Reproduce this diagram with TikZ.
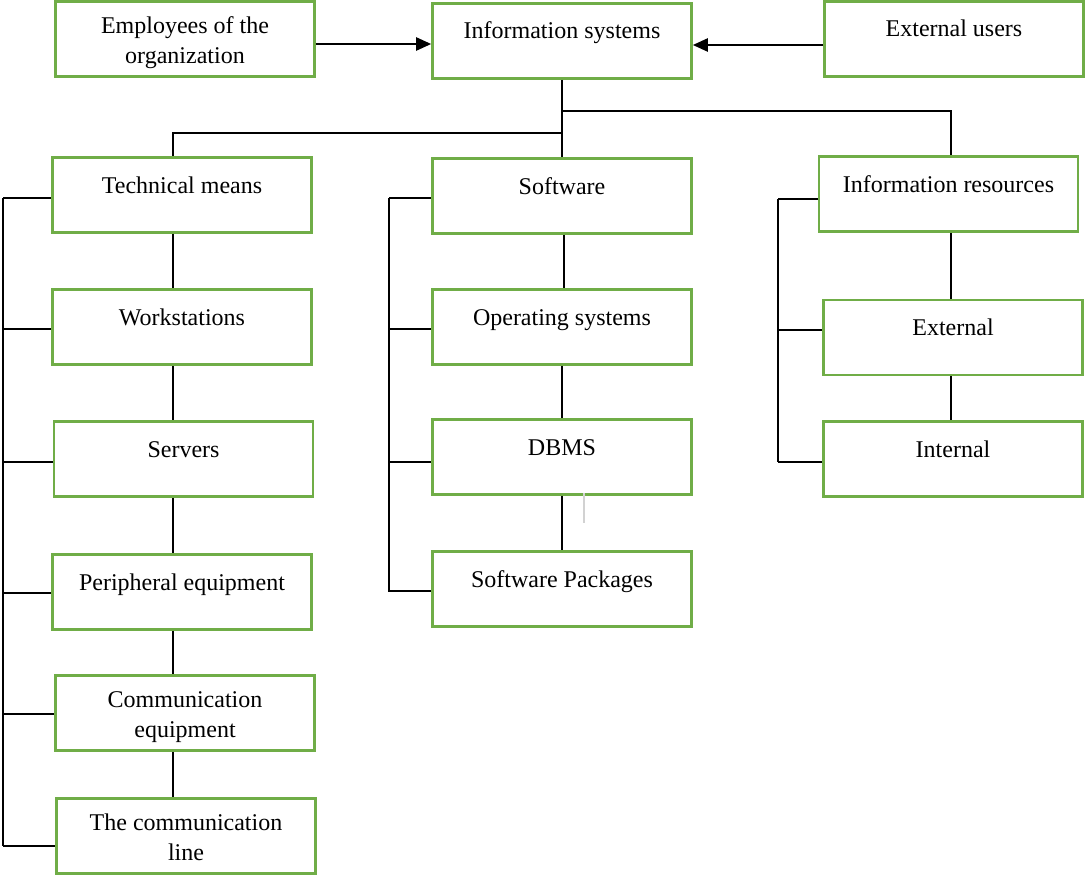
\documentclass[tikz,border=0pt]{standalone}
\usepackage{fontspec}
\setmainfont{Liberation Serif}
\usetikzlibrary{arrows.meta}
\newcommand\bt[1]{\parbox[t]{250pt}{\centering #1}}
\begin{document}
\begin{tikzpicture}[x=1pt,y=-1pt,
  box/.style={draw=boxgreen, line width=2.6pt, minimum width=259pt, minimum height=75pt,
    inner sep=0pt, font=\fontsize{24}{30}\selectfont},
  one/.style={box, text height=35.5pt, text depth=39.5pt},
  two/.style={box, text height=32pt, text depth=43pt},
  conn/.style={line width=2.3pt, black},
  arr/.style={conn, -{Triangle[length=15pt,width=13pt]}}]
\definecolor{boxgreen}{RGB}{112,173,71}
\useasboundingbox (0,0) rectangle (1085,875);
% top row
\node[two] (emp) at (185,39) {\bt{Employees of the\\organization}};
\node[one] (is) at (562,41) {\bt{Information systems}};
\node[one] (eu) at (954,39) {\bt{External users}};
% second row
\node[one] (tm) at (182,195) {\bt{Technical means}};
\node[one] (sw) at (562,196) {\bt{Software}};
\node[one] (ir) at (948.5,194) {\bt{Information resources}};
% technical means column
\node[one] (ws) at (182,327) {\bt{Workstations}};
\node[one] (srv) at (183.5,459) {\bt{Servers}};
\node[one] (per) at (182,592) {\bt{Peripheral equipment}};
\node[two] (ceq) at (185,713) {\bt{Communication\\equipment}};
\node[two] (cl) at (186,836) {\bt{The communication\\line}};
% software column
\node[one] (os) at (562,327) {\bt{Operating systems}};
\node[one] (db) at (562,457) {\bt{DBMS}};
\node[one] (sp) at (562,589) {\bt{Software Packages}};
% information resources column
\node[one] (ext) at (953,337.5) {\bt{External}};
\node[one] (int) at (953,459) {\bt{Internal}};
% coordinates
\coordinate (tmx) at (173,0);
\coordinate (swx) at (564,0);
\coordinate (irx) at (951,0);
\coordinate (lb) at (3,0);
\coordinate (mb) at (389,0);
\coordinate (rb) at (778,0);
% arrows into information systems
\draw[arr] (emp.east |- 0,44) -- (is.west |- 0,44);
\draw[arr] (eu.west |- 0,45) -- (is.east |- 0,45);
% main tree
\draw[conn] (is.south) -- (sw.north);
\draw[conn] (is.south |- 0,111) -| (ir.north -| irx);
\draw[conn] (is.south |- 0,133) -| (tm.north -| tmx);
% technical means chain
\draw[conn] (tm.south -| tmx) -- (ws.north -| tmx);
\draw[conn] (ws.south -| tmx) -- (srv.north -| tmx);
\draw[conn] (srv.south -| tmx) -- (per.north -| tmx);
\draw[conn] (per.south -| tmx) -- (ceq.north -| tmx);
\draw[conn] (ceq.south -| tmx) -- (cl.north -| tmx);
% left bus
\draw[conn] (lb |- 0,198) -- (lb |- 0,846);
\draw[conn] (lb |- 0,198) -- (tm.west |- 0,198);
\draw[conn] (lb |- 0,329) -- (ws.west |- 0,329);
\draw[conn] (lb |- 0,462) -- (srv.west |- 0,462);
\draw[conn] (lb |- 0,593) -- (per.west |- 0,593);
\draw[conn] (lb |- 0,714) -- (ceq.west |- 0,714);
\draw[conn] (lb |- 0,846) -- (cl.west |- 0,846);
% software chain
\draw[conn] (sw.south -| swx) -- (os.north -| swx);
\draw[conn] (os.south) -- (db.north);
\draw[conn] (db.south) -- (sp.north);
\draw[gray!35, line width=1.5pt] (584,493) -- (584,523);
% middle bus
\draw[conn] (mb |- 0,198) -- (mb |- 0,592);
\draw[conn] (mb |- 0,198) -- (sw.west |- 0,198);
\draw[conn] (mb |- 0,329) -- (os.west |- 0,329);
\draw[conn] (mb |- 0,462) -- (db.west |- 0,462);
\draw[conn] (mb |- 0,591) -- (sp.west |- 0,591);
% information resources chain
\draw[conn] (ir.south -| irx) -- (ext.north -| irx);
\draw[conn] (ext.south -| irx) -- (int.north -| irx);
% right bus
\draw[conn] (rb |- 0,199) -- (rb |- 0,462);
\draw[conn] (rb |- 0,199) -- (ir.west |- 0,199);
\draw[conn] (rb |- 0,330) -- (ext.west |- 0,330);
\draw[conn] (rb |- 0,462) -- (int.west |- 0,462);
\end{tikzpicture}
\end{document}
